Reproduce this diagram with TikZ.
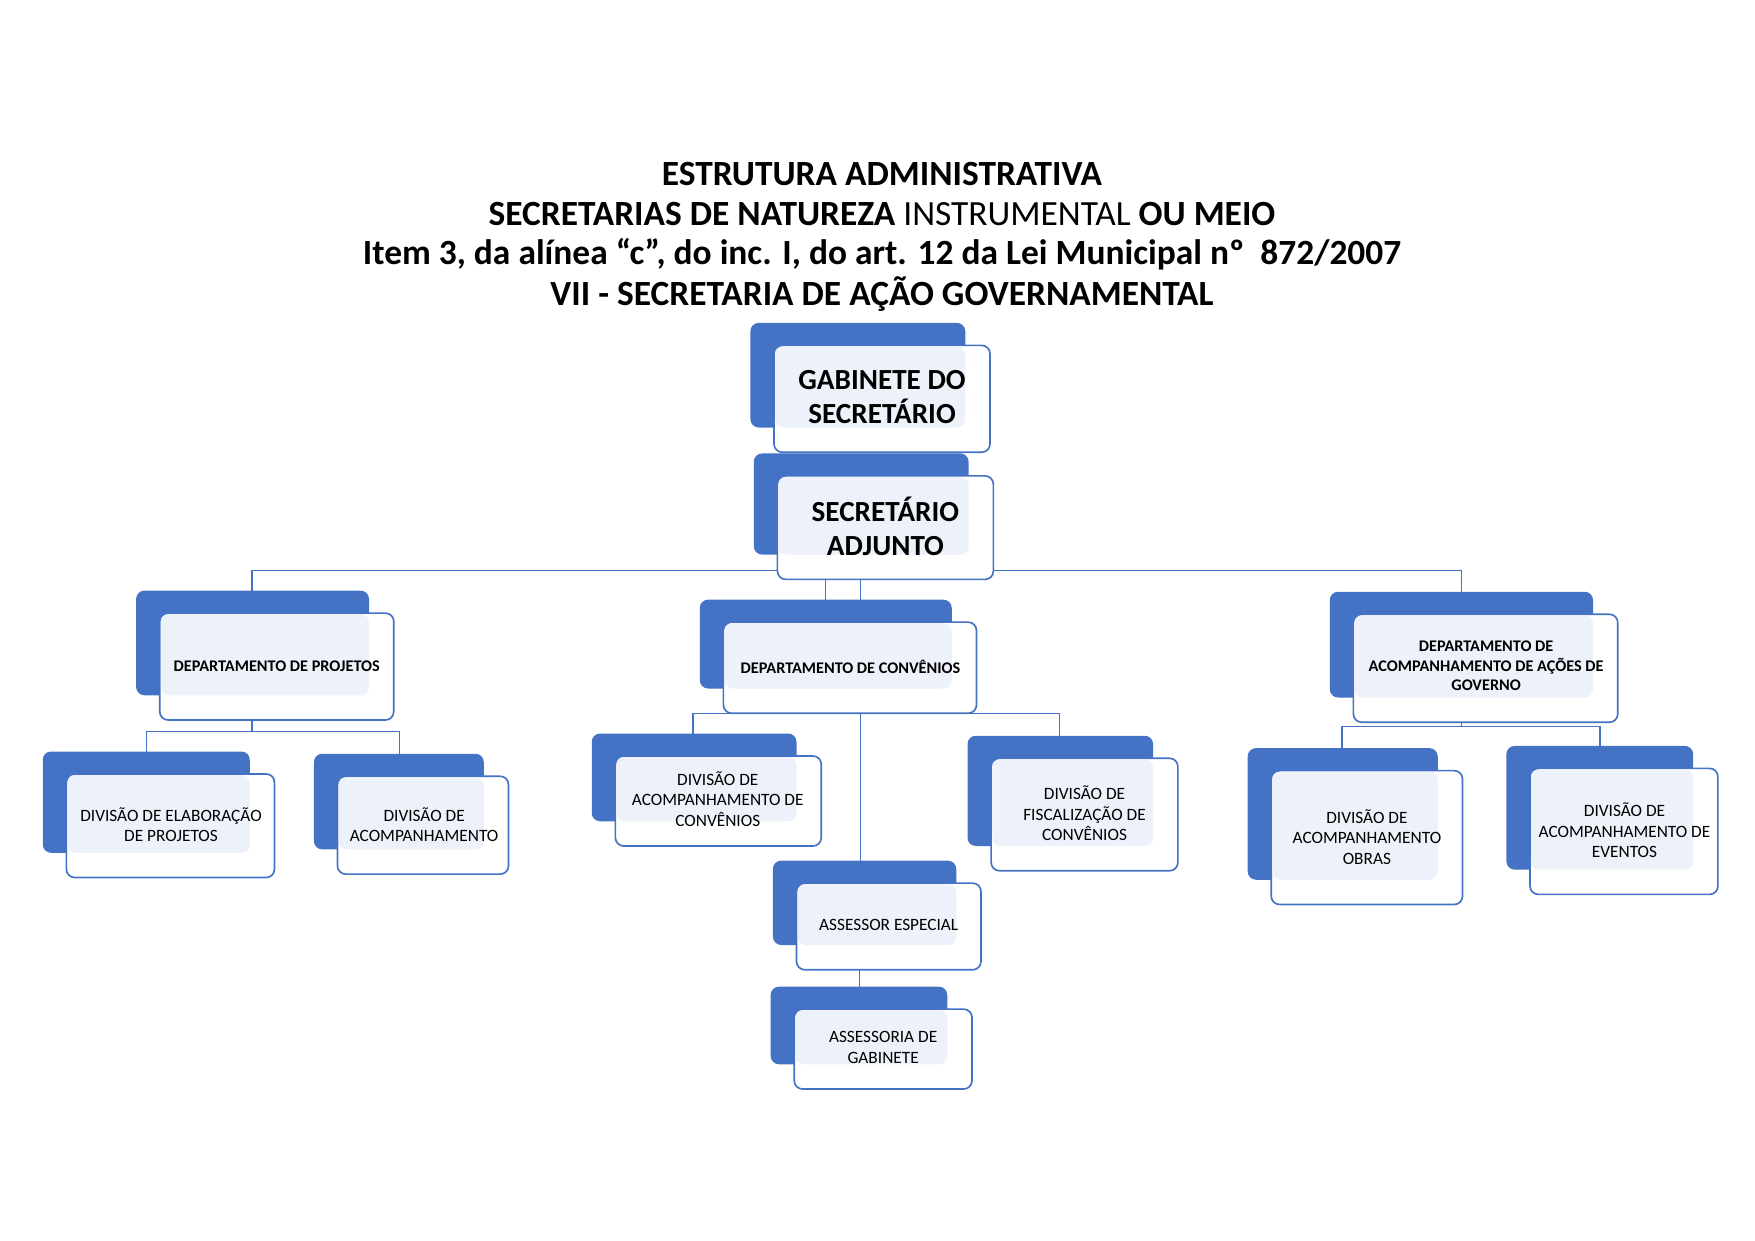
\documentclass[tikz,border=0pt]{standalone}
\usepackage{fontspec}
\setmainfont{Carlito}
\definecolor{dk}{HTML}{4472C4}
\definecolor{lt}{HTML}{EDF1F9}
\begin{document}
\begin{tikzpicture}[x=0.54pt,y=-0.54pt,
  back/.style={fill=dk,rounded corners=4pt},
  front/.style={fill=white,draw=dk,line width=0.8pt,rounded corners=4pt},
  light/.style={fill=lt,rounded corners=4pt},
  conn/.style={draw=dk,line width=0.7pt},
  big/.style={font=\fontsize{14}{16}\selectfont\bfseries,align=center},
  dep/.style={font=\fontsize{7.8}{9.3}\selectfont\bfseries,align=center},
  sm/.style={font=\fontsize{8.3}{9.8}\selectfont,align=center}]
\useasboundingbox (0,0) rectangle (1560,1103);
\newcommand{\orgbox}[8]{%
  \fill[back] (#1,#2) rectangle (#3,#4);
  \path[front] (#1+21,#2+20) rectangle (#3+22,#4+22);
  \fill[light] (#1+22,#2+21) rectangle (#3,#4);
}
% titles
\node[font=\fontsize{17}{20}\selectfont\bfseries] (t1) at (784,155) {ESTRUTURA ADMINISTRATIVA};
\node[font=\fontsize{17}{20}\selectfont] (t2) at (784,190) {\textbf{SECRETARIAS DE NATUREZA} INSTRUMENTAL \textbf{OU MEIO}};
\node[font=\fontsize{17}{20}\selectfont\bfseries] (t3) at (784,226) {Item 3, da alínea “c”, do inc. I, do art. 12 da Lei Municipal nº\ \ 872/2007};
\node[font=\fontsize{17}{20}\selectfont\bfseries] (t4) at (784,261) {VII - SECRETARIA DE AÇÃO GOVERNAMENTAL};
% connectors
\coordinate (h1) at (224,507); \coordinate (h2) at (1299,507);
\draw[conn] (224,525) -- (h1) -- (h2) -- (1299,526);
\draw[conn] (734,507) -- (734,533); \draw[conn] (765,507) -- (765,533);
\draw[conn] (224,640) -- (224,650); \draw[conn] (130,668) -- (130,650) -- (355,650) -- (355,670);
\draw[conn] (616,652) -- (616,634) -- (942,634) -- (942,654);
\draw[conn] (765,634) -- (765,765);
\draw[conn] (764,862) -- (764,877);
\draw[conn] (1299,642) -- (1299,646); \draw[conn] (1193,665) -- (1193,646) -- (1422,646) -- (1422,663);
% boxes
\orgbox{667}{287}{858}{380}{}{}{}{}
\node[big] (gab) at (784,353) {GABINETE DO\\SECRETÁRIO};
\orgbox{670}{403}{861}{493}{}{}{}{}
\node[big] (sec) at (787,468) {SECRETÁRIO\\ADJUNTO};
\orgbox{121}{525}{328}{618}{}{}{}{}
\node[dep] (dp) at (246,592) {DEPARTAMENTO DE PROJETOS};
\orgbox{622}{533}{846}{612}{}{}{}{}
\node[dep] (dc) at (756,593) {DEPARTAMENTO DE CONVÊNIOS};
\orgbox{1182}{526}{1416}{620}{}{}{}{}
\node[dep] (da) at (1321,592) {DEPARTAMENTO DE\\ACOMPANHAMENTO DE AÇÕES DE\\GOVERNO};
\orgbox{38}{668}{222}{758}{}{}{}{}
\node[sm] (d1) at (152,733) {DIVISÃO DE ELABORAÇÃO\\DE PROJETOS};
\orgbox{279}{670}{430}{755}{}{}{}{}
\node[sm] (d2) at (377,733) {DIVISÃO DE\\ACOMPANHAMENTO};
\orgbox{526}{652}{708}{730}{}{}{}{}
\node[sm] (d3) at (638,710) {DIVISÃO DE\\ACOMPANHAMENTO DE\\CONVÊNIOS};
\orgbox{860}{654}{1025}{752}{}{}{}{}
\node[sm] (d4) at (964,723) {DIVISÃO DE\\FISCALIZAÇÃO DE\\CONVÊNIOS};
\orgbox{1109}{665}{1278}{782}{}{}{}{}
\node[sm] (d5) at (1215,744) {DIVISÃO DE\\ACOMPANHAMENTO\\OBRAS};
\orgbox{1339}{663}{1505}{773}{}{}{}{}
\node[sm] (d6) at (1444,738) {DIVISÃO DE\\ACOMPANHAMENTO DE\\EVENTOS};
\orgbox{687}{765}{850}{840}{}{}{}{}
\node[sm] (ae) at (790,822) {ASSESSOR ESPECIAL};
\orgbox{685}{877}{842}{946}{}{}{}{}
\node[sm] (ag) at (785,931) {ASSESSORIA DE\\GABINETE};
\end{tikzpicture}
\end{document}
